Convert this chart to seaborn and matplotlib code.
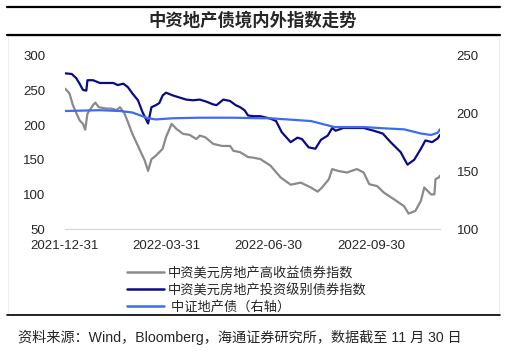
import seaborn as sns
import pandas as pd
import matplotlib.pyplot as plt
import matplotlib.dates as mdates
from matplotlib.lines import Line2D
from matplotlib.patches import Rectangle

# 中资美元房地产投资级别债券指数 (left axis)
ig_dates = ['2021-12-31', '2022-01-06', '2022-01-10', '2022-01-13', '2022-01-16', '2022-01-19',
            '2022-01-20', '2022-01-25', '2022-01-31', '2022-02-12', '2022-02-16', '2022-02-21',
            '2022-02-25', '2022-03-01', '2022-03-06', '2022-03-10', '2022-03-15', '2022-03-18',
            '2022-03-22', '2022-03-25', '2022-03-28', '2022-03-31', '2022-04-06', '2022-04-12',
            '2022-04-18', '2022-04-24', '2022-04-30', '2022-05-06', '2022-05-12', '2022-05-15',
            '2022-05-21', '2022-05-27', '2022-06-01', '2022-06-05', '2022-06-09', '2022-06-12',
            '2022-06-17', '2022-06-23', '2022-07-02', '2022-07-07', '2022-07-12', '2022-07-20',
            '2022-07-26', '2022-07-30', '2022-08-05', '2022-08-11', '2022-08-16', '2022-08-22',
            '2022-08-26', '2022-08-29', '2022-09-05', '2022-09-23', '2022-10-02', '2022-10-10',
            '2022-10-17', '2022-10-26', '2022-11-01', '2022-11-07', '2022-11-13', '2022-11-17',
            '2022-11-23', '2022-11-28', '2022-11-30']
ig_values = [275, 274, 268, 260, 251, 250,
             265, 265, 261, 261, 258, 260,
             255, 246, 236, 219, 202.5, 226,
             229, 232, 243, 247, 243, 240,
             237, 236, 237, 234, 230, 229,
             237, 235, 229, 226, 221.5, 214,
             213, 213, 209.5, 206, 190, 175.5,
             182, 180, 168, 166, 179, 185,
             196, 192, 196, 196, 192, 188,
             175.5, 161, 143, 150, 166, 178,
             175.5, 181, 186]

# 中资美元房地产高收益债券指数 (left axis)
hy_dates = ['2021-12-31', '2022-01-04', '2022-01-07', '2022-01-13', '2022-01-16', '2022-01-18',
            '2022-01-20', '2022-01-25', '2022-01-27', '2022-01-30', '2022-02-06', '2022-02-10',
            '2022-02-15', '2022-02-18', '2022-02-22', '2022-02-25', '2022-03-01', '2022-03-08',
            '2022-03-12', '2022-03-15', '2022-03-18', '2022-03-22', '2022-03-28', '2022-03-31',
            '2022-04-05', '2022-04-09', '2022-04-15', '2022-04-21', '2022-04-27', '2022-04-30',
            '2022-05-05', '2022-05-12', '2022-05-20', '2022-05-27', '2022-05-30', '2022-06-05',
            '2022-06-12', '2022-06-17', '2022-06-23', '2022-07-02', '2022-07-11', '2022-07-20',
            '2022-07-29', '2022-08-07', '2022-08-13', '2022-08-17', '2022-08-23', '2022-08-26',
            '2022-08-31', '2022-09-08', '2022-09-17', '2022-09-23', '2022-09-28', '2022-10-05',
            '2022-10-11', '2022-10-20', '2022-10-29', '2022-11-02', '2022-11-08', '2022-11-13',
            '2022-11-16', '2022-11-19', '2022-11-22', '2022-11-25', '2022-11-26', '2022-11-29',
            '2022-11-30']
hy_values = [253, 246, 229, 207, 202, 193.5,
             216.7, 229, 232.7, 226, 224, 224,
             222, 226, 217, 204.5, 187.6, 163,
             149, 134, 151, 156, 166, 183,
             202, 195, 187.6, 186, 180, 185,
             182.5, 173, 170, 170, 163, 161,
             154, 153, 151, 141.6, 124.6, 114,
             117, 110, 104, 110, 122, 136.6,
             134, 131.6, 136.6, 131.6, 114.7, 112,
             102.6, 93, 83, 72.3, 76, 90.7,
             110, 105, 100, 100, 122, 124.6,
             127]

# 中证地产债 (right axis)
cn_dates = ['2021-12-31', '2022-01-31', '2022-02-18', '2022-03-01', '2022-03-15', '2022-03-22',
            '2022-04-06', '2022-04-30', '2022-05-30', '2022-06-23', '2022-07-02', '2022-08-07',
            '2022-08-28', '2022-09-23', '2022-10-11', '2022-10-29', '2022-11-13', '2022-11-22',
            '2022-11-28', '2022-11-30']
cn_values = [202.3, 203, 202.3, 201, 196, 195,
             196, 196.5, 196.5, 196, 196, 193.6,
             188.4, 188.4, 187.3, 186.4, 182.8, 181.5,
             183.5, 186.4]

tick_dates = ['2021-12-31', '2022-03-31', '2022-06-30', '2022-09-30']
labels = ['中资美元房地产高收益债券指数', '中资美元房地产投资级别债券指数', ' 中证地产债（右轴）']
title = '中资地产债境内外指数走势'
source = '资料来源：Wind，Bloomberg，海通证券研究所，数据截至 11 月 30 日'

c_hy, c_ig, c_cn = '#8a8a8a', '#0b0b85', '#3d6cf2'

df_ig = pd.DataFrame({'date': pd.to_datetime(ig_dates), 'value': ig_values})
df_hy = pd.DataFrame({'date': pd.to_datetime(hy_dates), 'value': hy_values})
df_cn = pd.DataFrame({'date': pd.to_datetime(cn_dates), 'value': cn_values})

sns.set_style('white')
plt.rcParams['font.family'] = ['Liberation Sans', 'Noto Sans CJK SC', 'DejaVu Sans']

fig = plt.figure(figsize=(5.07, 3.58), dpi=100)
ax = fig.add_axes([65 / 507, 1 - 229 / 358, 375 / 507, 173 / 358])
ax2 = ax.twinx()

sns.lineplot(data=df_hy, x='date', y='value', ax=ax, color=c_hy, linewidth=1.6)
sns.lineplot(data=df_ig, x='date', y='value', ax=ax, color=c_ig, linewidth=1.6)
sns.lineplot(data=df_cn, x='date', y='value', ax=ax2, color=c_cn, linewidth=1.6)

ax.set_ylim(50, 300)
ax.set_yticks([50, 100, 150, 200, 250, 300])
ax2.set_ylim(100, 250)
ax2.set_yticks([100, 150, 200, 250])
ax.set_xlim(pd.Timestamp('2021-12-31'), pd.Timestamp('2022-11-30'))
ax.set_xticks(pd.to_datetime(tick_dates))
ax.xaxis.set_major_formatter(mdates.DateFormatter('%Y-%m-%d'))

for a in (ax, ax2):
    a.set_xlabel('')
    a.set_ylabel('')
    for s in ['top', 'left', 'right']:
        a.spines[s].set_visible(False)
    a.spines['bottom'].set_color('#d9d9d9')
    a.patch.set_alpha(0)
ax.tick_params(axis='x', direction='out', length=4, color='#d9d9d9', labelsize=9.5, pad=4)
ax.tick_params(axis='y', length=0, labelsize=9.5, pad=14)
ax2.tick_params(axis='y', length=0, labelsize=9.5, pad=12)

# title band and frame
fig.add_artist(Line2D([7 / 507, 500 / 507], [1 - 7 / 358, 1 - 7 / 358], color='black', lw=1.6))
fig.add_artist(Line2D([7 / 507, 500 / 507], [1 - 35 / 358, 1 - 35 / 358], color='black', lw=1.6))
fig.add_artist(Line2D([7 / 507, 500 / 507], [1 - 315 / 358, 1 - 315 / 358], color='black', lw=1.2))
fig.add_artist(Rectangle((8 / 507, 1 - 314 / 358), 491 / 507, 278 / 358, fill=False,
                         edgecolor='#eeeeee', lw=0.8))
fig.text(253 / 507, 1 - 21 / 358, title, ha='center', va='center', fontsize=12.5,
         fontweight='bold', family=['Noto Sans CJK SC', 'DejaVu Sans'])

handles = [Line2D([], [], color=c, lw=1.8) for c in (c_hy, c_ig, c_cn)]
fig.legend(handles, labels, loc='upper left', bbox_to_anchor=(115 / 507, 1 - 255 / 358),
           frameon=False, handlelength=2.8, handletextpad=0.3, labelspacing=0.3,
           prop={'family': ['Noto Sans CJK SC', 'DejaVu Sans'], 'size': 9.5})

fig.text(18 / 507, 1 - 337 / 358, source, ha='left', va='center', fontsize=10.2,
         family=['Liberation Sans', 'Noto Sans CJK SC'])

fig.savefig('out.png', dpi=100)
